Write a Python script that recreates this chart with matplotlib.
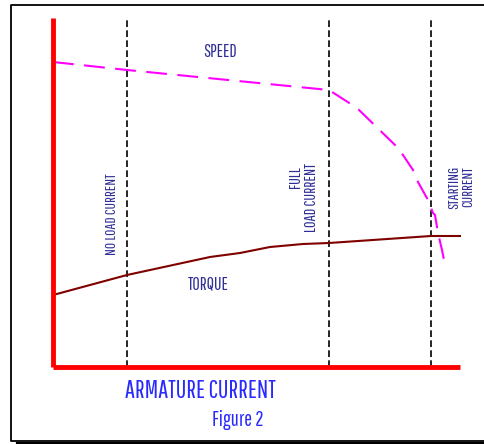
import matplotlib.pyplot as plt

# armature current (arbitrary units) vs speed / torque
speed_x = [0, 74, 276, 304, 342, 350, 360, 365, 375, 380, 382, 385, 389, 392]
speed_y = [305, 297, 277, 259, 222, 212, 197, 185, 167, 154, 152, 134, 117, 102]
torque_x = [0, 74, 157, 187, 217, 250, 276, 378, 407]
torque_y = [72, 92, 110, 114, 120, 123, 124, 131, 131]
markers_x = [74, 276, 378]  # no load, full load, starting current
x_end, y_end = 407, 349

fig = plt.figure(figsize=(4.84, 4.44), dpi=100)
ax = fig.add_axes([0, 0, 1, 1])
ax.set_xlim(-53, 431)
ax.set_ylim(-77, 367)
ax.axis('off')

font = ['Pathway Gothic One', 'DejaVu Sans']
navy = '#2e2e96'

# outer frame (open on the right) with a drop shadow along the bottom
ax.plot([1.0, 0.023, 0.023, 1.0], [0.989, 0.989, 0.007, 0.007],
        transform=ax.transAxes, color='black', linewidth=1.3, clip_on=False)
ax.plot([0.035, 1.0], [0.002, 0.002], transform=ax.transAxes,
        color='black', linewidth=1.6, clip_on=False)

for x in markers_x:
    ax.plot([x, x], [0, y_end], color='black', linewidth=1.2, dashes=(4, 2))

sp, = ax.plot(speed_x, speed_y, color='#ff00ff', linewidth=1.5)
sp.set_dashes((10, 5))
ax.plot(torque_x, torque_y, color='#800000', linewidth=1.5)

# axes in red
ax.plot([0, 0], [0, y_end], color='red', linewidth=3.5, solid_capstyle='butt')
ax.plot([0, x_end], [0, 0], color='red', linewidth=3.5, solid_capstyle='butt')

ax.text(167, 315, 'SPEED', family=font, fontsize=13, color=navy, ha='center', va='center')
ax.text(155, 83, 'TORQUE', family=font, fontsize=13, color=navy, ha='center', va='center')
ax.text(59, 153, 'NO LOAD CURRENT', family=font, fontsize=11, color=navy,
        ha='center', va='center', rotation=90)
ax.text(251, 170, 'FULL  \nLOAD CURRENT', family=font, fontsize=11.5, color=navy,
        ha='center', va='center', rotation=90, linespacing=1.0, multialignment='right')
ax.text(408, 180, 'STARTING\nCURRENT', family=font, fontsize=11, color=navy,
        ha='center', va='center', rotation=90, linespacing=1.0)
ax.text(147, -24, 'ARMATURE CURRENT', family=font, fontsize=18, color='#2a2aff',
        ha='center', va='center')
ax.text(185, -53, 'Figure 2', family=font, fontsize=15, color='#2a2aff',
        ha='center', va='center')

fig.savefig('out.png', dpi=100)
